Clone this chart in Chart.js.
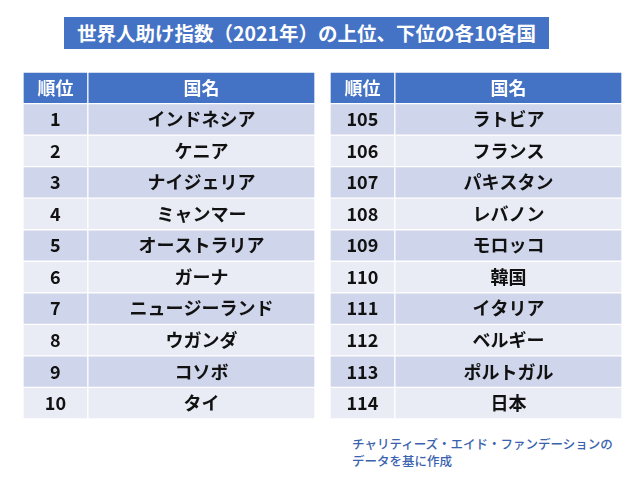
<!DOCTYPE html>
<html>
<head>
<meta charset="utf-8">
<script src="https://cdn.jsdelivr.net/npm/chart.js@4"></script>
<style>
  body { margin: 0; background: #fff; font-family: "Noto Sans CJK JP", sans-serif; }
  #page { position: relative; width: 640px; height: 480px; }
  #title {
    position: absolute; left: 64px; top: 17px; width: 485px; height: 32px;
    background: #4472C4; color: #fff; font-weight: bold; font-size: 19.5px;
    line-height: 32px; text-align: center;
  }
  .tbl { position: absolute; top: 72px; }
  #note {
    position: absolute; left: 352px; top: 435px; color: #3A62AE;
    font-size: 12.5px; line-height: 17px; font-weight: 500;
  }
</style>
</head>
<body>
<div id="page">
  <div id="title">世界人助け指数（2021年）の上位、下位の各10各国</div>
  <canvas id="left" class="tbl" style="left:23px" width="292" height="347"></canvas>
  <canvas id="right" class="tbl" style="left:330px" width="292" height="347"></canvas>
  <div id="note">チャリティーズ・エイド・ファンデーションの<br>データを基に作成</div>
</div>
<script>
// 表の中身
var headers = ['順位', '国名'];
var ranksTop = ['1', '2', '3', '4', '5', '6', '7', '8', '9', '10'];
var namesTop = ['インドネシア', 'ケニア', 'ナイジェリア', 'ミャンマー', 'オーストラリア', 'ガーナ', 'ニュージーランド', 'ウガンダ', 'コソボ', 'タイ'];
var ranksBottom = ['105', '106', '107', '108', '109', '110', '111', '112', '113', '114'];
var namesBottom = ['ラトビア', 'フランス', 'パキスタン', 'レバノン', 'モロッコ', '韓国', 'イタリア', 'ベルギー', 'ポルトガル', '日本'];

var colSplit = 22.2; // 順位列の幅 (%)

function rowColors(n) {
    var c = ['#4472C4'];
    for (var i = 0; i < n; i++) c.push(i % 2 == 0 ? '#CFD5EA' : '#E9EBF5');
    return c;
}

// セルの文字を描く
var cellText = {
    id: 'cellText',
    afterDatasetsDraw: function (chart) {
        var ctx = chart.ctx;
        var cols = chart.config.options.plugins.cellText.cols;
        ctx.save();
        ctx.textAlign = 'center';
        ctx.textBaseline = 'middle';
        ctx.font = 'bold 18px "Noto Sans CJK JP"';
        chart.data.datasets.forEach(function (ds, d) {
            var meta = chart.getDatasetMeta(d);
            meta.data.forEach(function (bar, i) {
                var x = (bar.x + bar.base) / 2;
                ctx.fillStyle = i == 0 ? '#fff' : '#111';
                ctx.fillText(cols[d][i], x, bar.y);
            });
        });
        ctx.restore();
    }
};

function makeTable(id, ranks, names) {
    var labels = [headers[0]].concat(ranks);
    var colors = rowColors(ranks.length);
    return new Chart(document.getElementById(id), {
        type: 'bar',
        data: {
            labels: labels,
            datasets: [{
                data: labels.map(function () { return [0, colSplit]; }),
                backgroundColor: colors,
                borderColor: '#fff',
                borderWidth: 1,
                borderSkipped: false
            }, {
                data: labels.map(function () { return [colSplit, 100]; }),
                backgroundColor: colors,
                borderColor: '#fff',
                borderWidth: 1,
                borderSkipped: false
            }]
        },
        options: {
            indexAxis: 'y',
            responsive: false,
            animation: false,
            devicePixelRatio: 1,
            grouped: false,
            categoryPercentage: 1,
            barPercentage: 1,
            layout: { padding: 0 },
            scales: {
                x: { display: false, min: 0, max: 100 },
                y: { display: false }
            },
            plugins: {
                legend: { display: false },
                tooltip: { enabled: false },
                cellText: { cols: [[headers[0]].concat(ranks), [headers[1]].concat(names)] }
            }
        },
        plugins: [cellText]
    });
}

makeTable('left', ranksTop, namesTop);
makeTable('right', ranksBottom, namesBottom);
</script>
</body>
</html>
